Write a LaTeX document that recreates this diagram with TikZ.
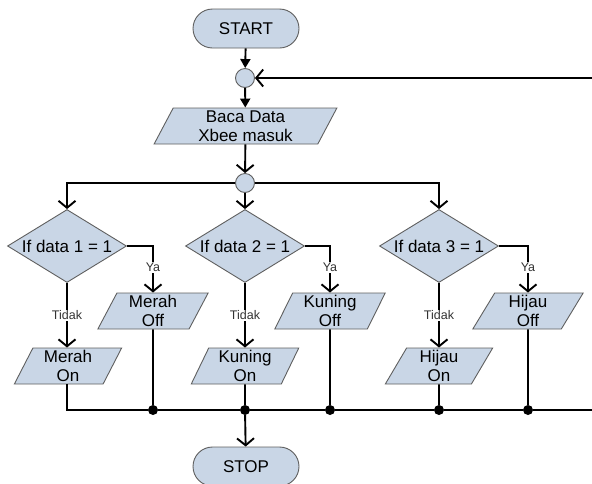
\documentclass[tikz,border=0pt]{standalone}
\usepackage{fontspec}
\setmainfont{Liberation Sans}
\usetikzlibrary{shapes.geometric,arrows.meta}
\definecolor{boxblue}{RGB}{201,214,230}
\definecolor{boxline}{RGB}{95,95,95}
\begin{document}
\begin{tikzpicture}[x=1pt,y=-1pt,
  fc/.style={draw=boxline,fill=boxblue,line width=0.9pt,font=\fontsize{17}{19}\selectfont,align=center,inner sep=0pt},
  term/.style={fc,rectangle,rounded corners=19.5pt,minimum width=106pt,minimum height=39pt},
  conn/.style={fc,circle,minimum size=19pt},
  io/.style={fc,trapezium,trapezium left angle=68,trapezium right angle=112,trapezium stretches=true,minimum height=36pt,minimum width=#1},
  cond/.style={fc,diamond,minimum width=119pt,minimum height=73pt},
  wire/.style={line width=1.9pt},
  vtip/.style={wire,-{Straight Barb[length=7pt,width=17pt,line width=1.9pt]}},
  filltip/.style={wire,-{Triangle[length=9pt,width=10pt]}},
  lbl/.style={fill=white,inner sep=1pt,font=\fontsize{12.5}{14}\selectfont,text=black!80},
  jn/.style={circle,fill=black,inner sep=0pt,minimum size=10pt}]
\useasboundingbox (0,0) rectangle (592,483);
\clip (0,0) rectangle (592,483);
\node[term] (start) at (246,28.5) {START};
\node[conn] (c1) at (245,78) {};
\node[io=183pt] (baca) at (245.5,126) {Baca Data\\Xbee masuk};
\node[conn] (c2) at (245,183) {};
\node[cond] (d1) at (67,246) {\makebox[0pt]{If data 1 = 1}};
\node[cond] (d2) at (245,246) {\makebox[0pt]{If data 2 = 1}};
\node[cond] (d3) at (439,246) {\makebox[0pt]{If data 3 = 1}};
\node[io=111pt] (off1) at (153,311) {Merah\\Off};
\node[io=111pt] (off2) at (330,311) {Kuning\\Off};
\node[io=111pt] (off3) at (528,311) {Hijau\\Off};
\node[io=108pt] (on1) at (68,366) {Merah\\On};
\node[io=108pt] (on2) at (245,366) {Kuning\\On};
\node[io=108pt] (on3) at (439,366) {Hijau\\On};
\node[jn] (j1) at (153,410) {};
\node[jn] (j2) at (245,410) {};
\node[jn] (j3) at (330,410) {};
\node[jn] (j4) at (439,410) {};
\node[jn] (j5) at (528,410) {};
\node[term] (stop) at (246,466.5) {STOP};
\coordinate (back) at (592,78);
\coordinate (out) at (592,410);
% main line
\draw[filltip] (start) -- (c1);
\draw[filltip] (c1) -- (baca);
\draw[vtip] (back) -- (c1);
\draw[vtip] (baca) -- (c2);
\draw[vtip] (c2) -| (d1);
\draw[vtip] (c2) -- (d2);
\draw[vtip] (c2) -| (d3);
% branches
\draw[vtip] (d1) -| node[lbl,pos=0.73] {Ya} (off1);
\draw[vtip] (d2) -| node[lbl,pos=0.73] {Ya} (off2);
\draw[vtip] (d3) -| node[lbl,pos=0.73] {Ya} (off3);
\draw[vtip] (d1) -- node[lbl] {Tidak} (on1.north -| d1);
\draw[vtip] (d2) -- node[lbl] {Tidak} (on2);
\draw[vtip] (d3) -- node[lbl] {Tidak} (on3);
% join
\draw[wire] (on1.south -| d1) |- (j1) -- (j2) -- (j3) -- (j4) -- (j5) -- (out);
\draw[wire] (off1) -- (j1);
\draw[wire] (on2) -- (j2);
\draw[wire] (off2) -- (j3);
\draw[wire] (on3) -- (j4);
\draw[wire] (off3) -- (j5);
\draw[vtip] (j2) -- (stop);
\end{tikzpicture}
\end{document}
